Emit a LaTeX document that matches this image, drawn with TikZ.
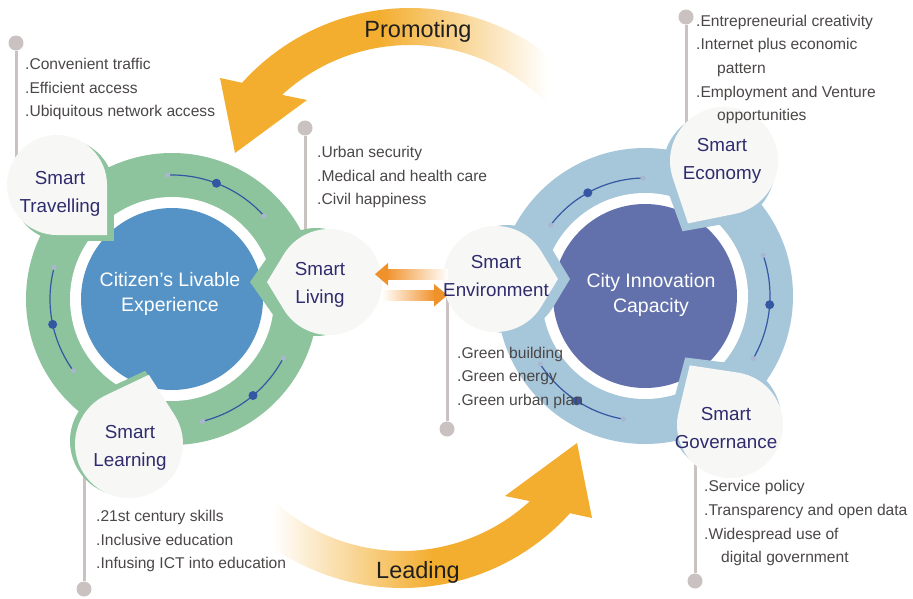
\documentclass[tikz,border=0pt]{standalone}
\usepackage{fontspec}
\setmainfont{Liberation Sans}
\usetikzlibrary{calc}

\definecolor{ringgreen}{HTML}{8DC49E}
\definecolor{coreblue}{HTML}{5593C6}
\definecolor{ringblue}{HTML}{A6C6DA}
\definecolor{coreviolet}{HTML}{6271AB}
\definecolor{petalwhite}{HTML}{F7F7F6}
\definecolor{titlenavy}{HTML}{2F2C6E}
\definecolor{listgray}{HTML}{4B4747}
\definecolor{pingray}{HTML}{C9C2C0}
\definecolor{arroworange}{HTML}{F3AE30}
\definecolor{linkorange}{HTML}{F0922B}
\definecolor{arcblue}{HTML}{3557A3}
\definecolor{arcend}{HTML}{AAB6CF}

\pgfdeclarehorizontalshading{promofade}{100bp}{color(0bp)=(arroworange); color(47bp)=(arroworange); color(70bp)=(white); color(100bp)=(white)}
\pgfdeclarehorizontalshading{leadfade}{100bp}{color(0bp)=(white); color(31bp)=(white); color(53bp)=(arroworange); color(100bp)=(arroworange)}

\tikzset{
  title/.style={text=titlenavy, align=center, font=\fontsize{18.8}{28.5}\selectfont},
  list/.style={text=listgray, align=left, anchor=north west, inner sep=0pt, font=\fontsize{15.6}{23.7}\selectfont},
  core/.style={text=white, align=center, font=\fontsize{19.5}{24.5}\selectfont},
  bigword/.style={text=black!88, font=\fontsize{23.5}{28}\selectfont},
  knob/.style={circle, fill=pingray, minimum size=15pt, inner sep=0pt},
  pinline/.style={draw=pingray, line width=3pt},
  arcline/.style={draw=arcblue, line width=1.2pt}
}

% #1 fill, #2 centre, #3 radius, #4 tip direction, #5 tip distance
\newcommand{\petalshape}[5]{%
  \fill[#1] ($#2+(#4:#5)$) -- ($#2+({#4+acos(#3/#5)}:#3)$)
    arc[start angle={#4+acos(#3/#5)}, end angle={#4-acos(#3/#5)+360}, radius=#3] -- cycle;}

% #1 centre, #2 start, #3 end, #4 dot, #5 radius
\newcommand{\ringarc}[5]{%
  \draw[arcline] ($#1+(#2:#5)$) arc[start angle=#2, end angle=#3, radius=#5];
  \fill[arcend] ($#1+(#2:#5)$) circle[radius=2.6] ($#1+(#3:#5)$) circle[radius=2.6];
  \fill[arcblue] ($#1+(#4:#5)$) circle[radius=4.5];}

\begin{document}
\begin{tikzpicture}[x=1pt, y=-1pt]
  \useasboundingbox (0,0) rectangle (913,598);
  \fill[white] (0,0) rectangle (913,598);
  % centres
  \coordinate (lc) at (172,299);
  \coordinate (rc) at (645,296);
  \coordinate (pc) at (410,234);
  \coordinate (qc) at (402,362);
  \coordinate (trav) at (57,185);
  \coordinate (live) at (329,282);
  \coordinate (envi) at (496,279);
  \coordinate (econ) at (724,161);
  \coordinate (gove) at (730,425);
  \coordinate (lear) at (129,444);
  \coordinate (travs) at (63,190);
  \coordinate (lives) at (316,282);
  \coordinate (envis) at (507,279);
  \coordinate (econs) at (719,168);
  \coordinate (goves) at (726,418);
  \coordinate (lears) at (125,441);

  % big arrows
  \shade[shading=promofade] ($(pc)+(-40:226)$) arc[start angle=-40, end angle=-138, radius=226]
    -- (220,78) -- (235,153) -- (307,100) -- ($(pc)+(-132.6:189)$)
    arc[start angle=-132.6, end angle=-40, radius=189] -- cycle;
  \shade[shading=leadfade] ($(qc)+(140:226)$) arc[start angle=140, end angle=42, radius=226]
    -- (592,518) -- (577,443) -- (505,496) -- ($(qc)+(47.4:189)$)
    arc[start angle=47.4, end angle=140, radius=189] -- cycle;

  % pins
  \node (trknob) [knob] at (16,43) {};
  \node (lvknob) [knob] at (305,128) {};
  \node (ecknob) [knob] at (686,17) {};
  \node (enknob) [knob] at (447,429) {};
  \node (lnknob) [knob] at (84,589) {};
  \node (gvknob) [knob] at (695,581) {};
  \draw[pinline] (trknob) -- (trknob |- trav);
  \draw[pinline] (lvknob) -- (lvknob |- live);
  \draw[pinline] (ecknob) -- (ecknob |- econ);
  \draw[pinline] (enknob) -- (enknob |- envi);
  \draw[pinline] (lnknob) -- (lnknob |- lear);
  \draw[pinline] (gvknob) -- (gvknob |- gove);

  % rings
  \fill[ringgreen] (lc) circle[radius=146];
  \fill[white] (lc) circle[radius=102];
  \fill[coreblue] (lc) circle[radius=91];
  \fill[ringblue] (rc) circle[radius=148];
  \fill[white] (rc) circle[radius=103];
  \fill[coreviolet] (rc) circle[radius=92];
  \ringarc{(lc)}{-92}{-42}{-69}{124}
  \ringarc{(lc)}{144}{195}{168}{122}
  \ringarc{(lc)}{28}{76}{50}{126}
  \ringarc{(rc)}{-143}{-91}{-119}{118}
  \ringarc{(rc)}{-19}{30}{4}{125}
  \ringarc{(rc)}{100}{147}{123}{125}

  % petals
  \petalshape{ringgreen}{(travs)}{51}{45}{72}
  \petalshape{ringgreen}{(lives)}{54}{180}{66}
  \petalshape{ringgreen}{(lears)}{55}{-74}{73}
  \petalshape{ringblue}{(envis)}{54}{0}{63}
  \petalshape{ringblue}{(econs)}{56}{120}{73}
  \petalshape{ringblue}{(goves)}{55}{-124}{73}
  \petalshape{petalwhite}{(trav)}{50}{45}{71}
  \petalshape{petalwhite}{(live)}{53}{180}{62}
  \petalshape{petalwhite}{(lear)}{54}{-74}{72}
  \petalshape{petalwhite}{(envi)}{53}{0}{62}
  \petalshape{petalwhite}{(econ)}{54}{120}{72}
  \petalshape{petalwhite}{(gove)}{53}{-124}{72}

  % link arrows
  \shade[left color=linkorange, right color=white] (386,269.5) rectangle (448,279);
  \fill[linkorange] (375,274.2) -- (388,263) -- (388,285.5) -- cycle;
  \shade[left color=white, right color=linkorange] (382,290.5) rectangle (435,300);
  \fill[linkorange] (447.5,295.2) -- (434,284) -- (434,306.5) -- cycle;

  % titles
  \node (trtitle) [title] at (60,194) {Smart\\Travelling};
  \node (lvtitle) [title] at (320,285) {Smart\\Living};
  \node (entitle) [title] at (496,276) {Smart\\Environment};
  \node (ectitle) [title] at (722,161) {Smart\\Economy};
  \node (gvtitle) [title] at (726,428) {Smart\\Governance};
  \node (lntitle) [title] at (130,448) {Smart\\Learning};
  \node (lcore) [core] at (170,294) {Citizen's Livable\\Experience};
  \node (rcore) [core] at (651,295) {City Innovation\\Capacity};
  \node (promo) [bigword] at (418,31) {Promoting};
  \node (lead) [bigword] at (418,572) {Leading};

  % lists
  \node (trlist) [list] at (25,58) {.Convenient traffic\\.Efficient access\\.Ubiquitous network access};
  \node (lvlist) [list] at (317,146) {.Urban security\\.Medical and health care\\.Civil happiness};
  \node (eclist) [list] at (696,14.6) {.Entrepreneurial creativity\\.Internet plus economic\\\hspace*{21pt}pattern\\.Employment and Venture\\\hspace*{21pt}opportunities};
  \node (enlist) [list] at (457,346.5) {.Green building\\.Green energy\\.Green urban plan};
  \node (lnlist) [list] at (96,509.8) {.21st century skills\\.Inclusive education\\.Infusing ICT into education};
  \node (gvlist) [list] at (704,480.3) {.Service policy\\.Transparency and open data\\.Widespread use of\\\hspace*{17pt}digital government};
\end{tikzpicture}
\end{document}
